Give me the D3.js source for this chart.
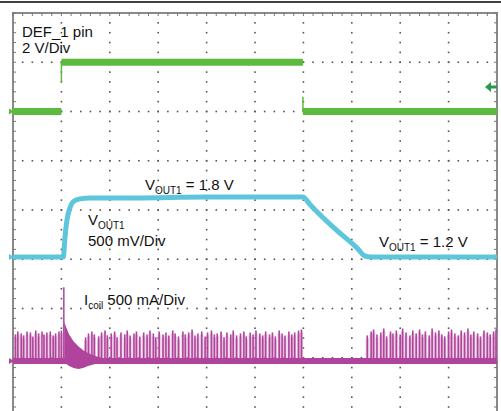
<!DOCTYPE html>
<html><head><meta charset="utf-8">
<script src="https://cdn.jsdelivr.net/npm/d3@7"></script>
<style>html,body{margin:0;padding:0;background:#fff;}svg{display:block;}</style>
</head><body>
<script>
// ---- data (time in divisions, channel values in their units) ----
const timeDivs = [0,1,2,3,4,5,6,7,8,9,10];
const vertDivs = [0,1,2,3,4,5,6,7,8];
// Channel 1: DEF_1 pin (V), 2 V/Div
const def1Segments = [[0,1.0,0],[1.0,5.99,2.0],[5.99,10,0]];   // [t0,t1,V]
const def1Edges = [[1.0,2.0,1.2],[5.99,0,0.6]];                  // [t, Vfrom, Vto]
const trigLevel = 1.0;
// Channel 2: VOUT1 (V), 500 mV/Div
const voutT = [0,1.04,1.06,1.074,1.116,1.178,1.24,1.38,1.6,2.5,4.0,5.0,5.99,6.14,6.28,6.69,7.11,7.27,7.4,10];
const voutV = [1.2,1.2,1.3,1.40,1.58,1.70,1.76,1.79,1.80,1.80,1.81,1.81,1.81,1.73,1.66,1.47,1.29,1.21,1.2,1.2];
// Channel 3: Icoil (A), 500 mA/Div
const icoilSpike = [1.05, 0.75];
const decayT     = [1.06,1.1,1.16,1.25,1.35,1.45,1.55,1.7,1.9];
const decayUpper = [0.40,0.34,0.27,0.20,0.15,0.11,0.08,0.05,0.02];
const decayLower = [-0.02,-0.03,-0.05,-0.07,-0.08,-0.07,-0.05,-0.03,-0.01];
const pulseT = [0.05,0.1,0.17,0.22,0.29,0.36,0.41,0.47,0.53,0.6,0.64,0.7,0.77,0.83,0.88,0.95,1.0,
  1.5,1.56,1.63,1.68,1.77,1.83,1.9,1.95,2.03,2.1,2.15,2.23,2.31,2.36,2.42,2.5,2.55,2.62,2.7,2.77,2.83,2.9,2.95,3.02,3.1,3.16,3.22,3.3,3.35,3.42,3.51,3.56,3.63,3.7,3.76,3.82,3.9,3.97,4.02,4.1,4.16,4.22,4.3,4.36,4.42,4.5,4.55,4.62,4.7,4.77,4.82,4.9,4.96,5.02,5.1,5.16,5.22,5.3,5.36,5.42,5.5,5.56,5.62,5.7,5.76,5.82,5.9,5.96,
  7.32,7.4,7.45,7.52,7.6,7.66,7.72,7.8,7.85,7.92,8.0,8.05,8.12,8.2,8.26,8.33,8.4,8.46,8.52,8.6,8.66,8.73,8.8,8.86,8.92,9.0,9.06,9.13,9.2,9.26,9.33,9.4,9.46,9.52,9.6,9.66,9.73,9.8,9.86,9.93,9.98];
const pulseA = [0.27,0.30,0.28,0.26,0.30,0.29,0.25,0.31,0.28,0.30,0.27,0.29,0.30,0.26,0.28,0.30,0.31,
  0.24,0.28,0.30,0.27,0.25,0.29,0.31,0.26,0.28,0.30,0.24,0.29,0.27,0.31,0.26,0.28,0.30,0.25,0.29,0.27,0.31,0.28,0.24,0.30,0.27,0.29,0.26,0.31,0.28,0.25,0.30,0.27,0.29,0.32,0.26,0.28,0.30,0.25,0.29,0.31,0.27,0.28,0.30,0.24,0.29,0.27,0.31,0.26,0.28,0.30,0.25,0.29,0.27,0.31,0.28,0.26,0.30,0.27,0.29,0.25,0.31,0.28,0.26,0.30,0.27,0.29,0.31,0.32,
  0.26,0.30,0.32,0.27,0.29,0.33,0.25,0.30,0.28,0.31,0.27,0.33,0.29,0.26,0.31,0.28,0.32,0.27,0.30,0.26,0.33,0.29,0.31,0.27,0.25,0.30,0.32,0.28,0.26,0.31,0.29,0.33,0.27,0.30,0.28,0.25,0.31,0.29,0.27,0.30,0.32];
const labels = {
  ch1: ["DEF_1 pin", "2 V/Div"],
  ch2: ["V", "OUT1", "500 mV/Div"],
  hi: ["V", "OUT1", " = 1.8 V"],
  lo: ["V", "OUT1", " = 1.2 V"],
  ch3: ["I", "coil", " 500 mA/Div"]
};

// ---- layout ----
const W = 501, H = 411;
const svg = d3.select("body").append("svg").attr("width", W).attr("height", H);
const x = d3.scaleLinear().domain([0,10]).range([13,497]);
const yDiv = d3.scaleLinear().domain([0,8]).range([407,13]);
const ch1 = v => yDiv(6 + v/2);
const ch2 = v => yDiv(0.646 + v/0.5);
const ch3 = a => yDiv(0.934 + a/0.5);

const C1 = "#5cba3c", C2 = "#5ec6dc", C3 = "#b0449c";

// top black line
svg.append("line").attr("x1",0).attr("x2",W).attr("y1",2).attr("y2",2).attr("stroke","#000").attr("stroke-width",1.5);

// grid dots
const g = svg.append("g");
const minorX = d3.range(0, 50.001, 1).map(i => i/5);
const minorY = d3.range(0, 40.001, 1).map(i => i/5);
timeDivs.slice(1,-1).forEach(t => {
  minorY.forEach(d => g.append("rect").attr("x", x(t)-0.8).attr("y", yDiv(d)-0.8).attr("width",1.6).attr("height",1.6).attr("fill","#555"));
});
vertDivs.slice(1).forEach(d => {
  minorX.forEach(t => g.append("rect").attr("x", x(t)-0.8).attr("y", yDiv(d)-0.8).attr("width",1.6).attr("height",1.6).attr("fill","#555"));
});
// border
g.append("path").attr("d", `M${x(0)},${H+5}V${yDiv(8)}H${x(10)}V${H+5}`).attr("fill","none").attr("stroke","#8a8a8a").attr("stroke-width",2);
minorY.forEach(d => {
  g.append("line").attr("x1",x(0)).attr("x2",x(0)+3).attr("y1",yDiv(d)).attr("y2",yDiv(d)).attr("stroke","#777");
  g.append("line").attr("x1",x(10)).attr("x2",x(10)-3).attr("y1",yDiv(d)).attr("y2",yDiv(d)).attr("stroke","#777");
});
minorX.forEach(t => {
  g.append("line").attr("x1",x(t)).attr("x2",x(t)).attr("y1",yDiv(8)).attr("y2",yDiv(8)+3).attr("stroke","#777");
});

// ---- channel 3: Icoil ----
const g3 = svg.append("g");
// pulses
pulseT.forEach((t,i) => {
  g3.append("rect").attr("x", x(t)-1.6).attr("y", ch3(pulseA[i]-0.03)).attr("width",3.2).attr("height", ch3(0)-ch3(pulseA[i]-0.03)).attr("fill","#d89ccb").attr("opacity",0.6);
  g3.append("line").attr("x1",x(t)).attr("x2",x(t)).attr("y1",ch3(0)).attr("y2",ch3(pulseA[i])).attr("stroke",C3).attr("stroke-width",1.6);
});
// baseline
g3.append("line").attr("x1",x(0)).attr("x2",x(10)).attr("y1",ch3(0)).attr("y2",ch3(0)).attr("stroke",C3).attr("stroke-width",6);
// decay after start
const decayArea = d3.area().x((d,i)=>x(decayT[i])).y0((d,i)=>ch3(decayLower[i])).y1((d,i)=>ch3(decayUpper[i]));
g3.append("path").attr("d", decayArea(decayT)).attr("fill",C3);
g3.append("line").attr("x1",x(icoilSpike[0])).attr("x2",x(icoilSpike[0])).attr("y1",ch3(0)).attr("y2",ch3(icoilSpike[1])).attr("stroke",C3).attr("stroke-width",1.5);

// ---- channel 2: VOUT1 ----
const line2 = d3.line().curve(d3.curveMonotoneX).x((d,i)=>x(voutT[i])).y((d,i)=>ch2(voutV[i]));
svg.append("path").attr("d", line2(voutT)).attr("fill","none").attr("stroke",C2).attr("stroke-width",5).attr("stroke-linejoin","round");

// ---- channel 1: DEF_1 ----
const seg = d3.line().x(d=>x(d[0])).y(d=>ch1(d[1]));
def1Segments.forEach(s => {
  svg.append("path").attr("d", seg([[s[0],s[2]],[s[1],s[2]]])).attr("stroke",C1).attr("stroke-width",7).attr("fill","none");
});
def1Edges.forEach(e => {
  svg.append("line").attr("x1",x(e[0])).attr("x2",x(e[0])).attr("y1",ch1(e[1])).attr("y2",ch1(e[2])).attr("stroke",C1).attr("stroke-width",1.5);
});
// trigger arrow
const ty = ch1(trigLevel);
svg.append("path").attr("d",`M${x(10)-12},${ty}l6,-5v3.5h6v3h-6v3.5z`).attr("fill","#2a9a4a");
// ground markers
[[ch1(0),C1],[ch2(1.2),C2],[ch3(0),C3]].forEach(m => {
  svg.append("path").attr("d",`M9,${m[0]-3}l5,3l-5,3z`).attr("fill",m[1]);
});

// ---- labels ----
const font = "Liberation Sans, Arial, sans-serif";
function sub(xp, yp, parts, tail) {
  const t = svg.append("text").attr("x",xp).attr("y",yp).attr("font-family",font).attr("font-size",15).attr("fill","#111");
  t.append("tspan").text(parts[0]);
  t.append("tspan").attr("dy",4).attr("font-size",10).text(parts[1]);
  if (tail) t.append("tspan").attr("dy",-4).text(parts[2]);
  return t;
}
svg.append("text").attr("x",22).attr("y",37).attr("font-family",font).attr("font-size",15).attr("fill","#111").text(labels.ch1[0]);
svg.append("text").attr("x",22).attr("y",53).attr("font-family",font).attr("font-size",15).attr("fill","#111").text(labels.ch1[1]);
sub(88, 225, labels.ch2, false);
svg.append("text").attr("x",88).attr("y",246).attr("font-family",font).attr("font-size",15).attr("fill","#111").text(labels.ch2[2]);
sub(145, 190, labels.hi, true);
sub(379, 247, labels.lo, true);
sub(84, 305, labels.ch3, true);
</script>
</body></html>
